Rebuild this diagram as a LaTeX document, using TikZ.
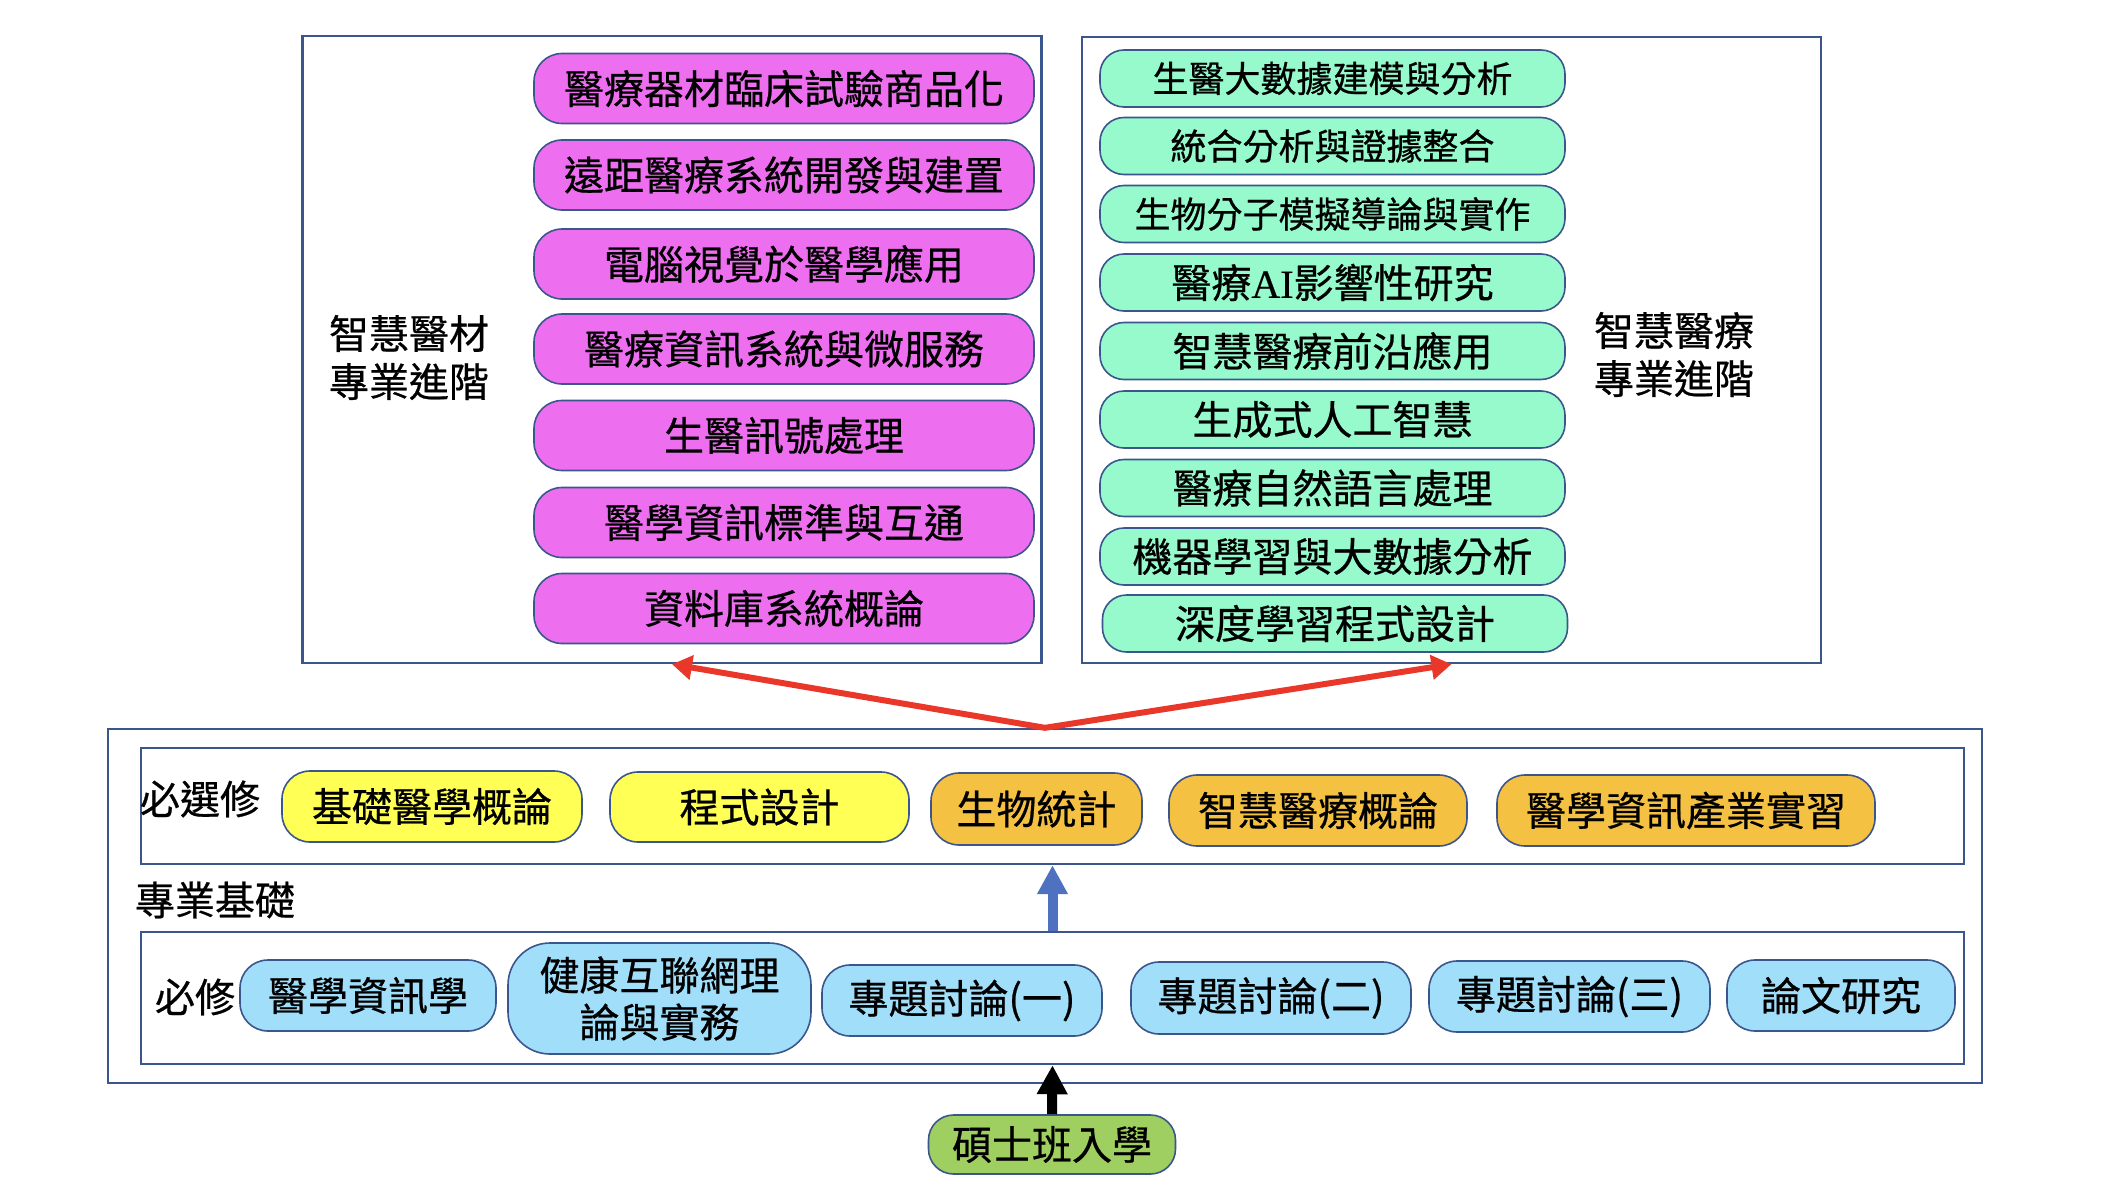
\documentclass[tikz,border=0pt]{standalone}
\usepackage{fontspec}
\setmainfont{Noto Sans CJK TC}[FakeBold=0.6]
\newfontfamily\latinserif{Liberation Serif}[FakeBold=0.4]
\usetikzlibrary{arrows.meta}
\definecolor{bordc}{RGB}{58,86,140}
\definecolor{pinkc}{RGB}{238,110,240}
\definecolor{mintc}{RGB}{150,250,205}
\definecolor{yelc}{RGB}{255,255,85}
\definecolor{orac}{RGB}{244,193,66}
\definecolor{skyc}{RGB}{160,222,250}
\definecolor{leafc}{RGB}{158,207,96}
\definecolor{redc}{RGB}{233,56,42}
\definecolor{bluec}{RGB}{78,114,192}
\begin{document}
\begin{tikzpicture}[x=1pt,y=-1pt,
  frame/.style={draw=bordc, line width=2.4pt, inner sep=0pt},
  pill/.style={draw=bordc, line width=1.6pt, rounded corners=28pt, inner sep=0pt,
    align=center, text=black, font=\fontsize{40}{47}\selectfont},
  lab/.style={inner sep=0pt, align=center, text=black, font=\fontsize{40}{48}\selectfont},
  pinkpill/.style={pill, fill=pinkc, minimum width=500pt, minimum height=70pt},
  mintpill/.style={pill, fill=mintc, rounded corners=24pt, minimum width=465pt, minimum height=57pt},
]
\useasboundingbox (0,0) rectangle (2114,1188);

% frames
\node[frame, minimum width=739pt, minimum height=627pt] (lbox) at (672,349.5) {};
\node[frame, minimum width=739pt, minimum height=626pt] (rbox) at (1451.5,350) {};
\node[frame, minimum width=1874pt, minimum height=354pt] (base) at (1045,906) {};
\node[frame, minimum width=1823pt, minimum height=116pt] (elec) at (1052.5,806) {};
\node[frame, minimum width=1823pt, minimum height=132pt] (req) at (1052.5,998) {};

% left column
\node[pinkpill] (p1) at (784,88.5) {醫療器材臨床試驗商品化};
\node[pinkpill] (p2) at (784,175) {遠距醫療系統開發與建置};
\node[pinkpill] (p3) at (784,264) {電腦視覺於醫學應用};
\node[pinkpill] (p4) at (784,349) {醫療資訊系統與微服務};
\node[pinkpill] (p5) at (784,435.5) {生醫訊號處理};
\node[pinkpill] (p6) at (784,522.5) {醫學資訊標準與互通};
\node[pinkpill] (p7) at (784,608.5) {資料庫系統概論};
\node[lab] (lab1) at (409,357.5) {智慧醫材\\專業進階};

% right column
\node[mintpill, font=\fontsize{36}{42}\selectfont] (g1) at (1332.5,78.5) {生醫大數據建模與分析};
\node[mintpill, font=\fontsize{36}{42}\selectfont] (g2) at (1332.5,146) {統合分析與證據整合};
\node[mintpill, font=\fontsize{36}{42}\selectfont] (g3) at (1332.5,214) {生物分子模擬導論與實作};
\node[mintpill] (g4) at (1332.5,282.5) {醫療{\latinserif AI}影響性研究};
\node[mintpill] (g5) at (1332.5,351) {智慧醫療前沿應用};
\node[mintpill] (g6) at (1332.5,419.5) {生成式人工智慧};
\node[mintpill] (g7) at (1332.5,488) {醫療自然語言處理};
\node[mintpill] (g8) at (1332.5,556.5) {機器學習與大數據分析};
\node[mintpill] (g9) at (1335,623.5) {深度學習程式設計};
\node[lab] (lab2) at (1674,354.5) {智慧醫療\\專業進階};

% foundation labels
\node[lab] (lab3) at (200,799) {必選修};
\node[lab] (lab4) at (215,900) {專業基礎};
\node[lab] (lab5) at (195,997) {必修};

% elective row
\node[pill, fill=yelc, minimum width=300pt, minimum height=71pt] (y1) at (432,806.5) {基礎醫學概論};
\node[pill, fill=yelc, minimum width=299pt, minimum height=70pt] (y2) at (759.5,807) {程式設計};
\node[pill, fill=orac, minimum width=211pt, minimum height=72pt] (o1) at (1036.5,809) {生物統計};
\node[pill, fill=orac, minimum width=298pt, minimum height=71pt] (o2) at (1318,810.5) {智慧醫療概論};
\node[pill, fill=orac, minimum width=378pt, minimum height=71pt] (o3) at (1686,810.5) {醫學資訊產業實習};

% required row
\node[pill, fill=skyc, minimum width=256pt, minimum height=71pt] (b1) at (368,995.5) {醫學資訊學};
\node[pill, fill=skyc, rounded corners=42pt, minimum width=303pt, minimum height=111pt] (b2) at (659.5,998.5) {健康互聯網理\\論與實務};
\node[pill, fill=skyc, minimum width=280pt, minimum height=71pt] (b3) at (962,1000.5) {專題討論(一)};
\node[pill, fill=skyc, minimum width=280pt, minimum height=72pt] (b4) at (1271,998) {專題討論(二)};
\node[pill, fill=skyc, minimum width=281pt, minimum height=71pt] (b5) at (1569.5,996.5) {專題討論(三)};
\node[pill, fill=skyc, minimum width=228pt, minimum height=71pt] (b6) at (1841,995.5) {論文研究};

% entry
\node[pill, fill=leafc, rounded corners=25pt, minimum width=247pt, minimum height=59pt] (entry) at (1052,1144.5) {碩士班入學};

% arrows
\draw[redc, line width=6pt, line join=miter,
  {Triangle[length=20pt,width=24pt]}-{Triangle[length=20pt,width=24pt]}]
  (lbox.south) -- (base.north) -- (rbox.south);
\draw[bluec, line width=10pt, -{Triangle[length=29pt,width=29pt]}] (req.north) -- (elec.south);
\draw[black, line width=10pt, -{Triangle[length=29pt,width=29pt]}] (entry.north) -- (req.south);
\end{tikzpicture}
\end{document}
